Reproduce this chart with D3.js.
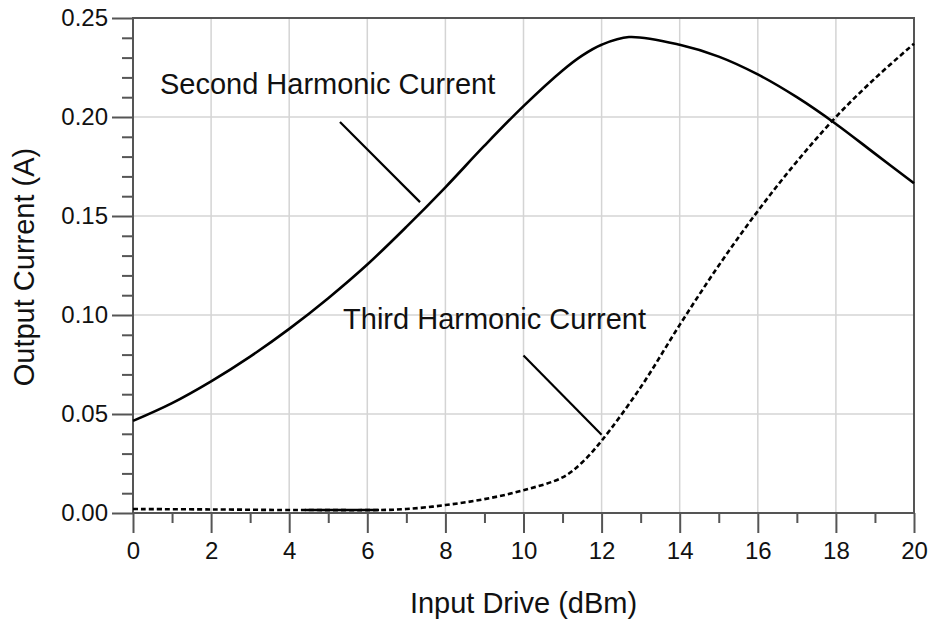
<!DOCTYPE html>
<html>
<head>
<meta charset="utf-8">
<script src="https://cdn.jsdelivr.net/npm/d3@7"></script>
<style>
  body { margin: 0; background: #fff; }
  svg text { font-family: "Liberation Sans", Arial, sans-serif; fill: #111; }
</style>
</head>
<body>
<svg id="chart" width="932" height="622"></svg>
<script>
// input drive (dBm) and output currents (A)
const driveSecond = [0, 1, 2, 3, 4, 5, 6, 7, 8, 9, 10, 11, 11.5, 12, 12.7, 14, 15, 16, 17, 18, 19, 20];
const secondHarmonic = [0.0465, 0.0555, 0.0665, 0.079, 0.093, 0.1085, 0.1255, 0.1445, 0.1645, 0.1855, 0.2055, 0.2235, 0.231, 0.2365, 0.2404, 0.2365, 0.2305, 0.2215, 0.210, 0.1965, 0.1815, 0.1665];

const driveThird = [0, 2, 4, 4.4, 6.3, 7, 8, 9, 10, 11, 11.5, 12, 13, 14, 15, 16, 17, 18, 19, 20];
const thirdHarmonic = [0.002, 0.0018, 0.0015, 0.0015, 0.0015, 0.002, 0.004, 0.007, 0.0115, 0.018, 0.0255, 0.0365, 0.0635, 0.095, 0.125, 0.1525, 0.1775, 0.200, 0.2195, 0.237];

// the short solid bit lying on the third harmonic trace near zero
const solidStretch = [4.4, 6.3];

const xTicks = [0, 2, 4, 6, 8, 10, 12, 14, 16, 18, 20];
const xMinorTicks = [1, 3, 5, 7, 9, 11, 13, 15, 17, 19];
const yTicks = [0, 0.05, 0.10, 0.15, 0.20, 0.25];
const yMinorTicks = [0.01, 0.02, 0.03, 0.04, 0.06, 0.07, 0.08, 0.09, 0.11, 0.12, 0.13, 0.14,
                     0.16, 0.17, 0.18, 0.19, 0.21, 0.22, 0.23, 0.24];

const labels = [
    { text: 'Second Harmonic Current', x: 0.69, y: 0.2116, from: [5.3, 0.1975], to: [7.35, 0.157] },
    { text: 'Third Harmonic Current', x: 5.38, y: 0.0929, from: [10.0, 0.0795], to: [12.0, 0.0395] }
];

const margin = { top: 18, right: 18, bottom: 109, left: 133 };
const width = 932 - margin.left - margin.right;
const height = 622 - margin.top - margin.bottom;

const svg = d3.select('#chart');
const g = svg.append('g').attr('transform', `translate(${margin.left},${margin.top})`);

const x = d3.scaleLinear().domain([0, 20]).range([0, width]);
const y = d3.scaleLinear().domain([0, 0.25]).range([height, 0]);

// grid
g.append('g').selectAll('line.vg')
    .data(xTicks.slice(1, -1))
    .enter().append('line')
        .attr('x1', d => x(d)).attr('x2', d => x(d))
        .attr('y1', 0).attr('y2', height)
        .attr('stroke', '#d4d4d4').attr('stroke-width', 1.5);

g.append('g').selectAll('line.hg')
    .data(yTicks.slice(1, -1))
    .enter().append('line')
        .attr('y1', d => y(d)).attr('y2', d => y(d))
        .attr('x1', 0).attr('x2', width)
        .attr('stroke', '#d4d4d4').attr('stroke-width', 1.5);

// axes
const xAxis = g.append('g')
    .attr('transform', `translate(0,${height})`)
    .call(d3.axisBottom(x).tickValues(xTicks).tickSize(20).tickPadding(9).tickFormat(d3.format('d')));
const xMinor = g.append('g')
    .attr('transform', `translate(0,${height})`)
    .call(d3.axisBottom(x).tickValues(xMinorTicks).tickSize(10).tickFormat(''));

const yAxis = g.append('g')
    .call(d3.axisLeft(y).tickValues(yTicks).tickSize(21).tickPadding(4).tickFormat(d3.format('.2f')));
const yMinor = g.append('g')
    .call(d3.axisLeft(y).tickValues(yMinorTicks).tickSize(11).tickFormat(''));

[xAxis, xMinor, yAxis, yMinor].forEach(a => {
    a.select('.domain').remove();
    a.selectAll('line').attr('stroke', '#555').attr('stroke-width', 2);
});
[xAxis, yAxis].forEach(a => {
    a.selectAll('text')
        .attr('font-size', 24)
        .attr('fill', '#111')
        .style('font-family', '"Liberation Sans", Arial, sans-serif');
});

// frame
g.append('rect')
    .attr('x', 0).attr('y', 0)
    .attr('width', width).attr('height', height)
    .attr('fill', 'none')
    .attr('stroke', '#555').attr('stroke-width', 2);

// curves
const line = d3.line()
    .x(d => x(d[0]))
    .y(d => y(d[1]))
    .curve(d3.curveCatmullRom.alpha(0.5));

const secondPts = driveSecond.map((d, i) => [d, secondHarmonic[i]]);
const thirdPts = driveThird.map((d, i) => [d, thirdHarmonic[i]]);

g.append('path')
    .datum(thirdPts)
    .attr('d', line)
    .attr('fill', 'none')
    .attr('stroke', '#000')
    .attr('stroke-width', 2.6)
    .attr('stroke-dasharray', '5,3');

g.append('path')
    .datum(thirdPts.filter(d => d[0] >= solidStretch[0] && d[0] <= solidStretch[1]))
    .attr('d', line)
    .attr('fill', 'none')
    .attr('stroke', '#000')
    .attr('stroke-width', 2.6);

g.append('path')
    .datum(secondPts)
    .attr('d', line)
    .attr('fill', 'none')
    .attr('stroke', '#000')
    .attr('stroke-width', 2.6);

// annotations
labels.forEach(l => {
    g.append('text')
        .attr('x', x(l.x))
        .attr('y', y(l.y))
        .attr('font-size', 29)
        .text(l.text);
    g.append('line')
        .attr('x1', x(l.from[0])).attr('y1', y(l.from[1]))
        .attr('x2', x(l.to[0])).attr('y2', y(l.to[1]))
        .attr('stroke', '#000').attr('stroke-width', 2.2);
});

// axis titles
svg.append('text')
    .attr('x', margin.left + width / 2)
    .attr('y', 613)
    .attr('text-anchor', 'middle')
    .attr('font-size', 29)
    .text('Input Drive (dBm)');

svg.append('text')
    .attr('transform', 'translate(34,267) rotate(-90)')
    .attr('text-anchor', 'middle')
    .attr('font-size', 29)
    .text('Output Current (A)');
</script>
</body>
</html>
